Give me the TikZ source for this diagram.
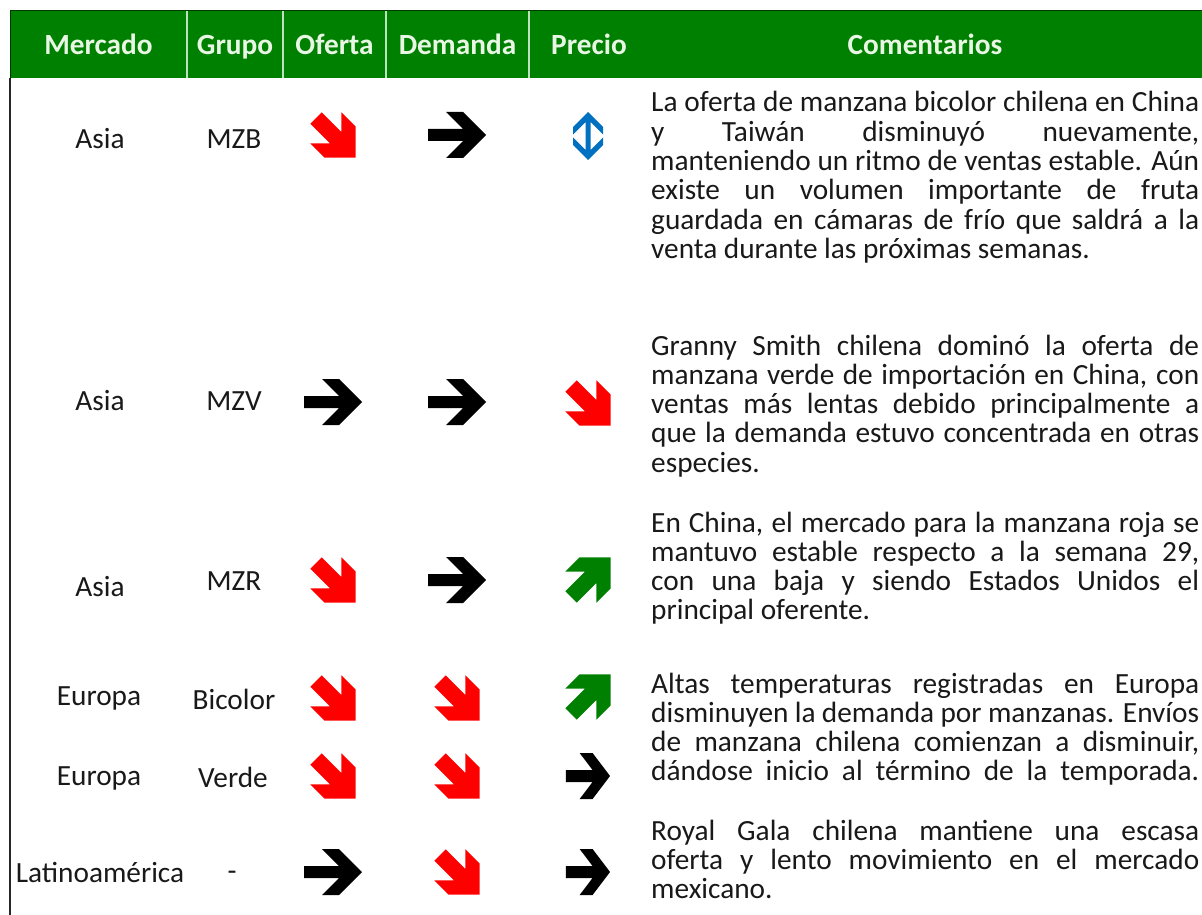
\documentclass[tikz,border=0pt]{standalone}
\usepackage{fontspec}
\setmainfont{Carlito}
\definecolor{hdrgreen}{RGB}{0,128,0}
\definecolor{hdrtext}{RGB}{232,246,228}
\definecolor{hdrline}{RGB}{190,226,190}
\definecolor{arred}{RGB}{255,0,0}
\definecolor{argreen}{RGB}{0,128,0}
\definecolor{arblue}{RGB}{0,112,192}
\definecolor{bodytext}{RGB}{25,25,25}
\newcommand\jl[1]{\makebox[548pt][s]{#1}}
\tikzset{
  hdr/.style={anchor=base, inner sep=0pt, font=\fontsize{29.3}{30}\selectfont\bfseries, text=hdrtext},
  cell/.style={anchor=base, inner sep=0pt, font=\fontsize{29.3}{30}\selectfont, text=bodytext},
  cline/.style={anchor=base west, inner sep=0pt, font=\fontsize{29.3}{30}\selectfont, text=bodytext},
  sepline/.style={draw=hdrline, line width=1.5pt},
  blkarrow/.pic={\fill[black] (-29,-6) -- (6,-6) -- (-11,-23) -- (6,-23) -- (29,0) -- (6,23) -- (-11,23) -- (6,6) -- (-29,6) -- cycle;},
  nblkarrow/.pic={\fill[black, xscale=0.76] (-29,-6) -- (6,-6) -- (-11,-23) -- (6,-23) -- (29,0) -- (6,23) -- (-11,23) -- (6,6) -- (-29,6) -- cycle;},
  dnarrow/.pic={\fill[arred, shift={(22.6,22.6)}, rotate=-45] (-56,-8) -- (-28,-8) -- (-42,-22) -- (-22,-22) -- (0,0) -- (-22,22) -- (-42,22) -- (-28,8) -- (-56,8) -- cycle;},
  uparrow/.pic={\fill[argreen, shift={(22.6,-22.6)}, rotate=45] (-56,-8) -- (-28,-8) -- (-42,-22) -- (-22,-22) -- (0,0) -- (-22,22) -- (-42,22) -- (-28,8) -- (-56,8) -- cycle;},
  dblarrow/.pic={\fill[arblue] (0,-24) -- (15,-9) -- (15,-1.5) -- (2.5,-14) -- (2.5,14) -- (15,1.5) -- (15,9) -- (0,24) -- (-15,9) -- (-15,1.5) -- (-2.5,14) -- (-2.5,-14) -- (-15,-1.5) -- (-15,-9) -- cycle;}
}
\begin{document}
\begin{tikzpicture}[x=1pt,y=-1pt]
\fill[white] (0,0) rectangle (1202,915);
\useasboundingbox (0,0) rectangle (1202,915);
% header band
\fill[hdrgreen] (10,11) rectangle (1202,78);
\draw[black!55!hdrgreen, line width=1pt] (10,78) -- (10,11) -- (1202,11);
\draw[sepline] (187,11) -- (187,78);
\draw[sepline] (283,11) -- (283,78);
\draw[sepline] (386,11) -- (386,78);
\draw[sepline] (529,11) -- (529,78);
% left border
\draw[black!85, line width=1.5pt] (10,78) -- (10,915);
% header texts
\node[hdr] (hmer) at (98.5,55) {Mercado};
\node[hdr] (hgru) at (235,55) {Grupo};
\node[hdr] (hofe) at (334.5,55) {Oferta};
\node[hdr] (hdem) at (457.5,55) {Demanda};
\node[hdr] (hpre) at (589,55) {Precio};
\node[hdr] (hcom) at (925,55) {Comentarios};
% row labels
\node[cell] (m1) at (100,149) {Asia};
\node[cell] (g1) at (234,149) {MZB};
\node[cell] (m2) at (100,410) {Asia};
\node[cell] (g2) at (234,410) {MZV};
\node[cell] (m3) at (100,596) {Asia};
\node[cell] (g3) at (234,590) {MZR};
\node[cell] (m4) at (99,705) {Europa};
\node[cell] (g4) at (234,709) {Bicolor};
\node[cell] (m5) at (99,785) {Europa};
\node[cell] (g5) at (233,787) {Verde};
\node[cell] (m6) at (100,882) {Latinoamérica};
\node[cell] (g6) at (232,880) {-};
% arrows
\pic (o1) at (333,135) {dnarrow};
\pic (d1) at (457,135) {blkarrow};
\pic (p1) at (588,136) {dblarrow};
\pic (o2) at (333,402) {blkarrow};
\pic (d2) at (457,402) {blkarrow};
\pic (p2) at (588,403) {dnarrow};
\pic (o3) at (333,580) {dnarrow};
\pic (d3) at (457,580) {blkarrow};
\pic (p3) at (588,580) {uparrow};
\pic (o4) at (333,698) {dnarrow};
\pic (d4) at (457,698) {dnarrow};
\pic (p4) at (588,697) {uparrow};
\pic (o5) at (333,776) {dnarrow};
\pic (d5) at (457,776) {dnarrow};
\pic (p5) at (588,776) {nblkarrow};
\pic (o6) at (333,872) {blkarrow};
\pic (d6) at (457,872) {dnarrow};
\pic (p6) at (588,872) {nblkarrow};
% comments
\node[cline] (c11) at (651,112) {\jl{La oferta de manzana bicolor chilena en China}};
\node[cline] (c12) at (651,141.3) {\jl{y Taiwán disminuyó nuevamente,}};
\node[cline] (c13) at (651,170.6) {\jl{manteniendo un ritmo de ventas estable. Aún}};
\node[cline] (c14) at (651,199.9) {\jl{existe un volumen importante de fruta}};
\node[cline] (c15) at (651,229.2) {\jl{guardada en cámaras de frío que saldrá a la}};
\node[cline] (c16) at (651,258.5) {venta durante las próximas semanas.};
\node[cline] (c21) at (651,355) {\jl{Granny Smith chilena dominó la oferta de}};
\node[cline] (c22) at (651,384.3) {\jl{manzana verde de importación en China, con}};
\node[cline] (c23) at (651,413.6) {\jl{ventas más lentas debido principalmente a}};
\node[cline] (c24) at (651,442.9) {\jl{que la demanda estuvo concentrada en otras}};
\node[cline] (c25) at (651,472.2) {especies.};
\node[cline] (c31) at (651,532) {\jl{En China, el mercado para la manzana roja se}};
\node[cline] (c32) at (651,561.3) {\jl{mantuvo estable respecto a la semana 29,}};
\node[cline] (c33) at (651,590.6) {\jl{con una baja y siendo Estados Unidos el}};
\node[cline] (c34) at (651,619.9) {principal oferente.};
\node[cline] (c41) at (651,693) {\jl{Altas temperaturas registradas en Europa}};
\node[cline] (c42) at (651,722.3) {\jl{disminuyen la demanda por manzanas. Envíos}};
\node[cline] (c43) at (651,751.6) {\jl{de manzana chilena comienzan a disminuir,}};
\node[cline] (c44) at (651,780.9) {\jl{dándose inicio al término de la temporada.}};
\node[cline] (c51) at (651,840) {\jl{Royal Gala chilena mantiene una escasa}};
\node[cline] (c52) at (651,869.3) {\jl{oferta y lento movimiento en el mercado}};
\node[cline] (c53) at (651,898.6) {mexicano.};
\end{tikzpicture}
\end{document}
